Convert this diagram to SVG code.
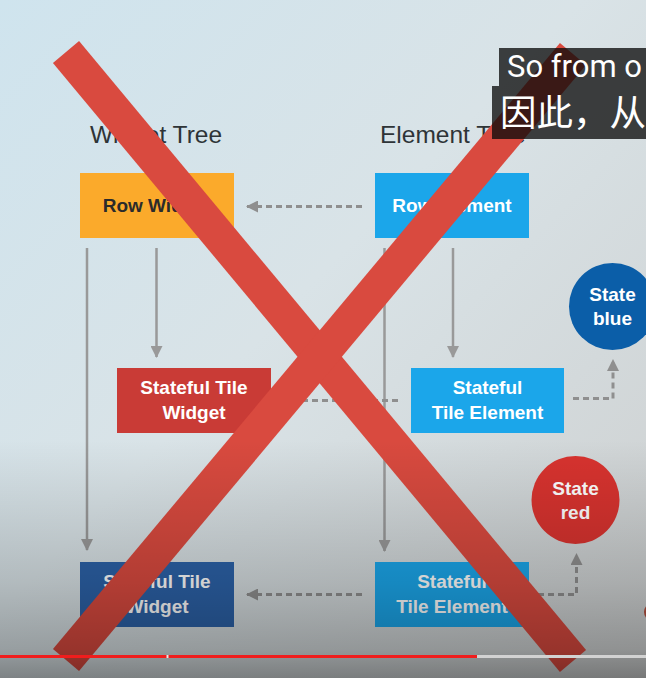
<svg xmlns="http://www.w3.org/2000/svg" width="646" height="678" viewBox="0 0 646 678">
<defs>
<linearGradient id="bg" x1="0" y1="0" x2="1" y2="1">
<stop offset="0" stop-color="#cfe4ee"/>
<stop offset="0.45" stop-color="#d9e3e7"/>
<stop offset="1" stop-color="#cdcfcf"/>
</linearGradient>
<linearGradient id="shade" x1="0" y1="0" x2="0" y2="1">
<stop offset="0" stop-color="#000" stop-opacity="0"/>
<stop offset="0.6" stop-color="#000" stop-opacity="0.18"/>
<stop offset="0.88" stop-color="#000" stop-opacity="0.3"/>
<stop offset="1" stop-color="#000" stop-opacity="0.42"/>
</linearGradient>
<marker id="ah" markerUnits="userSpaceOnUse" markerWidth="12" markerHeight="12" refX="11" refY="6" orient="auto">
<path d="M0,0 L12,6 L0,12 z" fill="#999"/>
</marker>
<marker id="ahd" markerUnits="userSpaceOnUse" markerWidth="12" markerHeight="12" refX="11" refY="6" orient="auto">
<path d="M0,0 L12,6 L0,12 z" fill="#8f8f8f"/>
</marker>
</defs>
<style>
.title{font-family:"Liberation Sans",Arial,sans-serif;font-size:24.5px;fill:#2e3437}
.lbl{font-family:"Liberation Sans",Arial,sans-serif;font-size:19px;font-weight:bold;text-anchor:middle;fill:#fff}
.solid{fill:none;stroke:#999;stroke-width:2.5;marker-end:url(#ah)}
.dash{fill:none;stroke:#8f8f8f;stroke-width:3;stroke-dasharray:6 4;marker-end:url(#ahd)}
.xs{stroke:#d94a3f;stroke-width:34;stroke-linecap:butt}
.sub{fill:#0a0a0a;fill-opacity:0.77}
</style>
<rect width="646" height="678" fill="url(#bg)"/>
<text class="title" x="90" y="143">Widget Tree</text>
<text class="title" x="380" y="143">Element Tree</text>
<g id="row-widget"><rect x="80" y="173" width="154" height="65" fill="#fbaa2b"/><text class="lbl" x="157" y="212" style="fill:#2b2b2b">Row Widget</text></g>
<g id="row-element"><rect x="375" y="173" width="154" height="65" fill="#1ba6ea"/><text class="lbl" x="452" y="212">Row Element</text></g>
<g id="stateful-tile-widget-red"><rect x="117" y="368" width="154" height="65" fill="#c93b36"/><text class="lbl" x="194" y="394">Stateful Tile</text><text class="lbl" x="194" y="419">Widget</text></g>
<g id="stateful-tile-element-1"><rect x="411" y="368" width="153" height="65" fill="#1ba6ea"/><text class="lbl" x="487.5" y="394">Stateful</text><text class="lbl" x="487.5" y="419">Tile Element</text></g>
<g id="state-blue"><circle cx="612.5" cy="306.5" r="43.5" fill="#0b5ea8"/><text class="lbl" x="612.5" y="301">State</text><text class="lbl" x="612.5" y="325">blue</text></g>
<g id="state-red"><circle cx="575.5" cy="500" r="44" fill="#d8332f"/><text class="lbl" x="575.5" y="495">State</text><text class="lbl" x="575.5" y="519">red</text></g>
<g id="stateful-tile-widget-blue"><rect x="80" y="562" width="154" height="65" fill="#2c62a8"/><text class="lbl" x="157" y="588">Stateful Tile</text><text class="lbl" x="157" y="613">Widget</text></g>
<g id="stateful-tile-element-2"><rect x="375" y="562" width="154" height="65" fill="#1ba6ea"/><text class="lbl" x="452" y="588">Stateful</text><text class="lbl" x="452" y="613">Tile Element</text></g>
<g id="connectors">
<path class="dash" d="M362,206.5 H247"/>
<path class="solid" d="M87,248 V550"/>
<path class="solid" d="M156.5,248 V357"/>
<path class="solid" d="M384.5,248 V551"/>
<path class="solid" d="M453,248 V357"/>
<path class="dash" d="M398,400.5 H283"/>
<path class="dash" d="M573,398.5 H613 V360"/>
<path class="dash" d="M362,594.5 H247"/>
<path class="dash" d="M538,594.5 H576.5 V554"/>
</g>
<g id="cross">
<line class="xs" x1="66" y1="52" x2="573" y2="661"/>
<line class="xs" x1="573" y1="54" x2="66" y2="660"/>
</g>
<circle cx="653" cy="612" r="9" fill="#b5503f"/>
<g id="subtitles">
<rect class="sub" x="499" y="48" width="147" height="38"/>
<rect class="sub" x="492" y="86" width="154" height="53"/>
<text x="507" y="77" style="font-family:Roboto,'Liberation Sans',sans-serif;font-size:31px;fill:#fff">So from o</text>
<text x="500" y="125.5" style="font-family:'Noto Sans CJK SC',sans-serif;font-size:36.5px;fill:#fff">因此，从</text>
</g>
<rect x="0" y="440" width="646" height="238" fill="url(#shade)"/>
<g id="progress">
<rect x="0" y="655" width="477" height="3" fill="#f01d1d"/>
<rect x="166.5" y="655" width="2" height="3" fill="#e8e8e8"/>
<rect x="477" y="655" width="169" height="3" fill="#d2d2d2"/>
</g>
</svg>
